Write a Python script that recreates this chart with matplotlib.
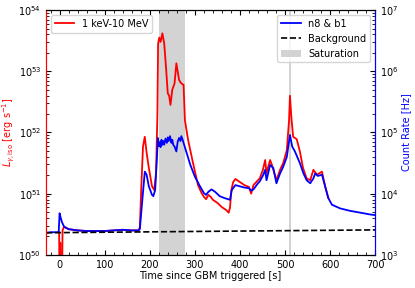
import numpy as np
import matplotlib
matplotlib.use("Agg")
import matplotlib.pyplot as plt
from matplotlib.ticker import AutoMinorLocator

# Count rate n8 & b1 (log10 Hz)
rate_t = np.array([-30, -20, -10, -2, 0, 2, 5, 10, 20, 40, 60, 80, 100, 120, 140, 160, 175,
                   178, 183, 189, 193, 198, 205, 208, 212, 216, 218, 220, 222, 224, 226, 228,
                   230, 232, 235, 238, 240, 242, 245, 248, 250, 252, 255, 259, 262, 265, 268,
                   270, 273, 275, 280, 290, 300, 310, 320, 325, 330, 337, 345, 355, 365, 378,
                   382, 390, 400, 410, 420, 425, 430, 440, 444, 452, 456, 459, 467, 474, 481,
                   489, 496, 504, 511, 516, 522, 533, 541, 548, 556, 563, 567, 573, 582, 589,
                   596, 604, 622, 644, 667, 689, 700])
rate_log = np.array([3.36, 3.37, 3.37, 3.37, 3.68, 3.62, 3.54, 3.46, 3.42, 3.40, 3.39, 3.39, 3.39,
                     3.40, 3.41, 3.40, 3.40,
                     3.42, 3.85, 4.36, 4.31, 4.12, 3.98, 3.96, 4.06, 4.60, 4.91, 4.78, 4.84, 4.76,
                     4.88, 4.80, 4.86, 4.80, 4.90, 4.83, 4.92, 4.86, 4.94, 4.83, 4.88, 4.80, 4.77,
                     4.69, 4.85, 4.91, 4.86, 4.94, 4.88, 4.83,
                     4.71, 4.47, 4.28, 4.14, 4.01, 3.98, 4.03, 4.07, 4.03, 3.96, 3.93, 3.90,
                     4.06, 4.14, 4.12, 4.10, 4.09, 4.05, 4.07, 4.17, 4.20, 4.31, 4.39, 4.22,
                     4.47, 4.42, 4.17, 4.33, 4.44, 4.60, 4.96, 4.77, 4.69, 4.50, 4.33, 4.22,
                     4.17, 4.25, 4.33, 4.29, 4.31, 4.12, 3.93, 3.82, 3.76, 3.72, 3.69, 3.66, 3.65])

# Isotropic luminosity 1 keV-10 MeV (log10 erg/s)
lum_t = np.array([-1, 0, 1.5, 3, 5, 6.5, 10, 20, 40, 60, 80, 100, 120, 140, 160, 175, 178, 181,
                  185, 189, 193, 198, 205, 210, 214, 217, 218.5, 221, 224, 228, 232, 236, 240,
                  243, 246, 250, 255, 259, 262, 265, 268, 272, 275, 278, 285, 296, 307, 315,
                  320, 325, 330, 335, 340, 350, 360, 370, 375, 378, 381, 385, 390, 400, 410,
                  420, 425, 430, 440, 444, 451, 456, 459, 467, 471, 481, 489, 496, 504, 509,
                  511, 514, 518, 526, 533, 540, 548, 556, 563, 571, 582, 589, 596])
lum_log = np.array([50.37, 49.0, 50.2, 49.0, 49.0, 50.40, 50.46, 50.42, 50.40, 50.39, 50.39,
                    50.39, 50.40, 50.41, 50.40, 50.40, 50.45, 51.06,
                    51.77, 51.93, 51.67, 51.42, 51.12, 51.06, 51.34, 52.30, 53.45, 53.55, 53.48,
                    53.62, 53.46, 53.07, 52.64, 52.60, 52.45, 52.70, 52.80, 53.13, 53.00, 52.86,
                    52.82, 52.79, 52.78, 52.20, 51.88, 51.50, 51.14, 51.01,
                    50.95, 50.91, 50.98, 50.95, 50.90, 50.85, 50.78, 50.73, 50.69, 50.77, 51.06,
                    51.19, 51.24, 51.19, 51.14, 51.11, 51.00, 51.14, 51.22, 51.25, 51.39, 51.55,
                    51.34, 51.55, 51.47, 51.22, 51.39, 51.50, 51.71, 52.20, 52.60, 52.26, 51.93,
                    51.89, 51.69, 51.42, 51.25, 51.22, 51.39, 51.31, 51.36, 51.12, 50.93])

bkg_t = [-30, 700]
bkg_rate = [2300, 2560]

saturation = [(220, 278), (508, 514)]

plt.rcParams['font.size'] = 7

fig = plt.figure(figsize=(4.15, 2.88), dpi=100)
ax = fig.add_axes([0.111, 0.115, 0.793, 0.85])
ax2 = ax.twinx()

for t0, t1 in saturation:
    ax.axvspan(t0, t1, color='lightgray', lw=0, zorder=0)

line_l, = ax.plot(lum_t, 10**lum_log, color='red', lw=1.3, label='1 keV-10 MeV')
ax2.plot(rate_t, 10**rate_log, color='blue', lw=1.3, label='n8 & b1')
ax2.plot(bkg_t, bkg_rate, color='black', ls='--', lw=1.2, label='Background')
ax2.fill_between([], [], color='lightgray', lw=0, label='Saturation')

ax.set_yscale('log')
ax2.set_yscale('log')
ax.set_xlim(-30, 700)
ax.set_ylim(1e50, 1e54)
ax2.set_ylim(1e3, 1e7)
ax.xaxis.set_minor_locator(AutoMinorLocator())

ax.set_xlabel('Time since GBM triggered [s]', labelpad=1)
ax.set_ylabel(r'$L_{\gamma,\rm iso}$ [erg s$^{-1}$]', color='red', labelpad=1)
ax2.set_ylabel('Count Rate [Hz]', color='blue', labelpad=2)

ax.tick_params(which='both', direction='in', top=True)
ax2.tick_params(which='both', direction='in')
for a in (ax, ax2):
    a.spines['left'].set_color('red')
    a.spines['right'].set_color('blue')

ax.legend(handles=[line_l], loc='upper left', fontsize=7)
ax2.legend(loc='upper right', fontsize=7)

fig.savefig('out.png', dpi=100)
